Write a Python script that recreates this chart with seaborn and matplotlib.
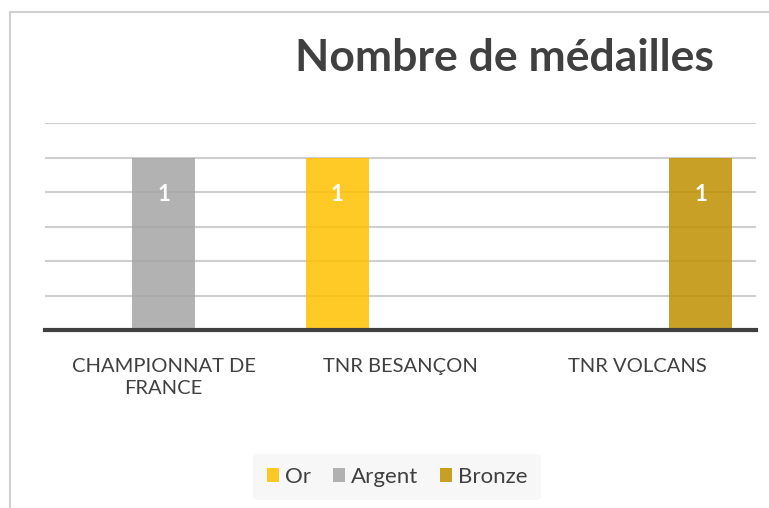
import matplotlib
matplotlib.use("Agg")
import matplotlib.pyplot as plt
import seaborn as sns
import pandas as pd
from matplotlib.patches import Rectangle

categories = ["CHAMPIONNAT DE\nFRANCE", "TNR BESANÇON", "TNR VOLCANS"]
series = ["Or", "Argent", "Bronze"]
or_values = [0, 1, 0]
argent_values = [1, 0, 0]
bronze_values = [0, 0, 1]
colors = ["#FFC000", "#A5A5A5", "#BF9000"]
title = "Nombre de médailles"

rows = []
for s, vals in zip(series, [or_values, argent_values, bronze_values]):
    for c, v in zip(categories, vals):
        rows.append({"cat": c, "serie": s, "val": v})
df = pd.DataFrame(rows)

sns.set_theme(style="white")
plt.rcParams["font.family"] = ["Lato", "DejaVu Sans"]

fig = plt.figure(figsize=(7.69, 5.08), dpi=100)
W, H = 769, 508
ax = fig.add_axes([45 / W, 1 - 330 / H, (756 - 45) / W, (330 - 123) / H])

sns.barplot(data=df, x="cat", y="val", hue="serie", hue_order=series,
            order=categories, palette=colors, width=0.8, alpha=0.85,
            saturation=1, linewidth=0, ax=ax, legend=True)

ax.set_ylim(0, 1.2)
ax.set_yticks([0, 0.2, 0.4, 0.6, 0.8, 1.0, 1.2])
ax.yaxis.grid(True, color="#CFCFCF", linewidth=1.5)
ax.set_axisbelow(True)
ax.set_yticklabels([])
ax.tick_params(axis="y", length=0)
ax.set_xlabel("")
ax.set_ylabel("")
for side in ["top", "right", "left"]:
    ax.spines[side].set_visible(False)
ax.spines["bottom"].set_color("#404040")
ax.spines["bottom"].set_linewidth(3)
ax.spines["bottom"].set_zorder(5)
ax.tick_params(axis="x", length=0, pad=20, labelsize=14.5, labelcolor="#404040")
for t in ax.get_xticklabels():
    t.set_linespacing(1.35)

for cont in ax.containers:
    labels = [("%d" % v if v > 0 else "") for v in cont.datavalues]
    ax.bar_label(cont, labels=labels, label_type="edge", padding=-34,
                 color="white", fontweight="bold", fontsize=16)

handles, labs = ax.get_legend_handles_labels()
ax.get_legend().remove()
leg = fig.legend(handles, labs, loc="center", bbox_to_anchor=(397 / W, 1 - 477 / H),
                 ncol=3, frameon=True, fontsize=16, handlelength=0.55, handleheight=0.55,
                 handletextpad=0.25, columnspacing=1.0, borderpad=0.6)
leg.get_frame().set_facecolor("#F5F5F5")
leg.get_frame().set_edgecolor("none")
for t in leg.get_texts():
    t.set_color("#404040")

fig.text(504 / W, 1 - 58 / H, title, ha="center", va="center",
         fontsize=32, fontweight="bold", color="#404040")

fig.patches.append(Rectangle((10 / W, -0.1), 2, 1 - 12 / H + 0.1, transform=fig.transFigure,
                             fill=False, edgecolor="#D0D0D0", linewidth=1.5))

fig.savefig("out.png", dpi=100)
